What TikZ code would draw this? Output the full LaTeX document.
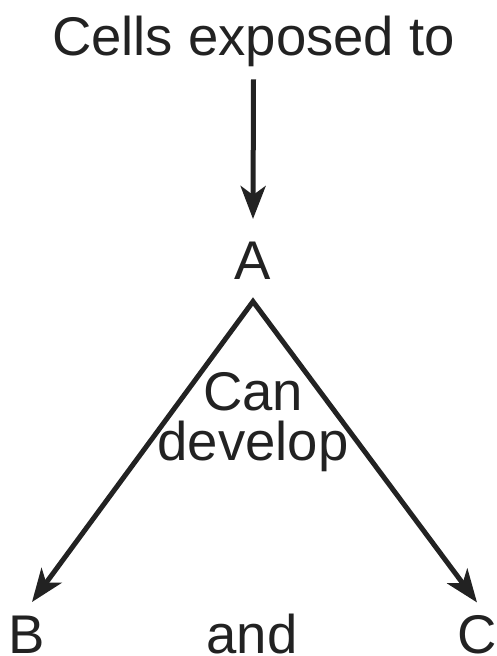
\documentclass[tikz,border=0pt]{standalone}
\usepackage{fontspec}
\setmainfont{Liberation Sans}
\usetikzlibrary{arrows.meta}
\definecolor{ink}{HTML}{222222}

\begin{document}
\begin{tikzpicture}[x=1pt, y=-1pt, color=ink, line width=5pt,
	font=\fontsize{54.5}{50}\selectfont,
	word/.style={anchor=base, inner sep=0pt},
	>={Stealth[length=33pt, width=25pt, inset=9pt]}]
	\useasboundingbox (0, 0) rectangle (496, 656);
	% Texts:
	\node[word] (cells) at (253.5, 55){Cells exposed to};
	\node[word] (a) at (253, 279){A};
	\node[word, align=center] (dev) at (253, 460){Can\\develop};
	\node[word] (b) at (26.5, 653){B};
	\node[word] (and) at (252, 653){and};
	\node[word] (c) at (477, 653){C};
	% Arrows:
	\coordinate (apex) at ([yshift=-20pt]a.south);
	\coordinate (tipb) at ([xshift=5.5pt, yshift=11pt]b.north);
	\coordinate (tipc) at ([xshift=0pt, yshift=10pt]c.north);
	\draw[->] ([yshift=-10.6pt]cells.south) -- ([yshift=20pt]a.north);
	\draw[<->, line join=miter] (tipb) -- (apex) -- (tipc);
\end{tikzpicture}
\end{document}
